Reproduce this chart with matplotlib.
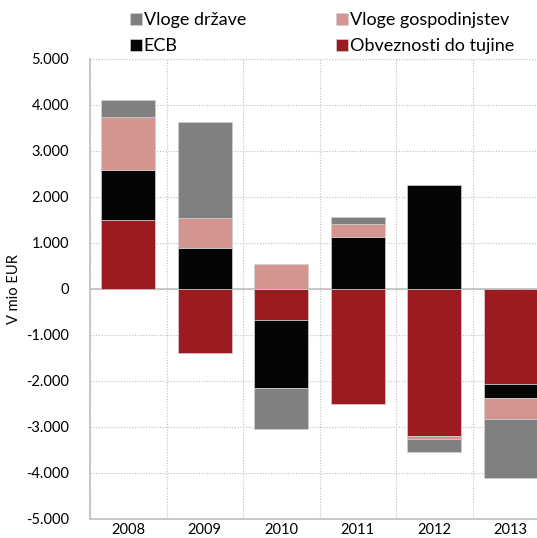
import matplotlib
matplotlib.use("Agg")
import matplotlib.pyplot as plt
import numpy as np

years = ["2008", "2009", "2010", "2011", "2012", "2013"]
obveznosti = [1500, -1400, -680, -2510, -3200, -2070]
ecb = [1080, 900, -1480, 1140, 2270, -300]
gospodinjstva = [1160, 650, 540, 270, -70, -460]
drzava = [360, 2090, -880, 150, -270, -1270]

series = [
    ("Obveznosti do tujine", obveznosti, "#9C1B20"),
    ("ECB", ecb, "#050505"),
    ("Vloge gospodinjstev", gospodinjstva, "#D49490"),
    ("Vloge države", drzava, "#808080"),
]

yticks = [-5000, -4000, -3000, -2000, -1000, 0, 1000, 2000, 3000, 4000, 5000]
ytick_labels = ["-5.000", "-4.000", "-3.000", "-2.000", "-1.000", "0",
                "1.000", "2.000", "3.000", "4.000", "5.000"]

plt.rcParams['font.family'] = ['Lato', 'DejaVu Sans']

fig = plt.figure(figsize=(5.37, 5.38), dpi=100)
ax = fig.add_axes([90/537, 19/538, 459/537, 460/538])

x = np.arange(len(years))
pos_base = np.zeros(len(years))
neg_base = np.zeros(len(years))
handles = {}
for name, vals, col in series:
    v = np.array(vals, dtype=float)
    bottoms = np.where(v >= 0, pos_base, neg_base)
    h = ax.bar(x, v, bottom=bottoms, width=0.7, color=col,
               edgecolor="#d0d0d0", linewidth=0.5, zorder=3, label=name)
    handles[name] = h
    pos_base = pos_base + np.where(v >= 0, v, 0)
    neg_base = neg_base + np.where(v < 0, v, 0)

ax.set_xlim(-0.5, len(years) - 0.5)
ax.set_ylim(-5000, 5000)
ax.set_yticks(yticks)
ax.set_yticklabels(ytick_labels)
ax.set_xticks(x)
ax.set_xticklabels(years)
ax.set_xticks(np.arange(len(years) + 1) - 0.5, minor=True)
ax.tick_params(axis='both', which='both', length=0, labelsize=10.5, colors='black')
ax.tick_params(axis='y', pad=15)
ax.tick_params(axis='x', pad=3)

ax.grid(True, axis='y', which='major', linestyle=(0, (1, 1.5)), color='#bfbfbf', linewidth=0.8, zorder=0)
ax.grid(True, axis='x', which='minor', linestyle=(0, (1, 1.5)), color='#bfbfbf', linewidth=0.8, zorder=0)
ax.grid(False, axis='x', which='major')
ax.axhline(0, color='#bfbfbf', linewidth=1.2, zorder=2)

for s in ['top', 'right']:
    ax.spines[s].set_visible(False)
for s in ['left', 'bottom']:
    ax.spines[s].set_color('#bfbfbf')
    ax.spines[s].set_linewidth(1.2)

ax.set_ylabel("V mio EUR", fontsize=10.5, labelpad=4)

order = ["Vloge države", "ECB", "Vloge gospodinjstev", "Obveznosti do tujine"]
leg = fig.legend([handles[n] for n in order], order, ncol=2,
                 loc='upper left', bbox_to_anchor=(130/537, 1 - 12/538),
                 frameon=False, fontsize=13, handlelength=0.65, handleheight=0.65,
                 handletextpad=0.1, columnspacing=5.0, labelspacing=0.55,
                 borderaxespad=0, borderpad=0)

fig.savefig("out.png", dpi=100)
